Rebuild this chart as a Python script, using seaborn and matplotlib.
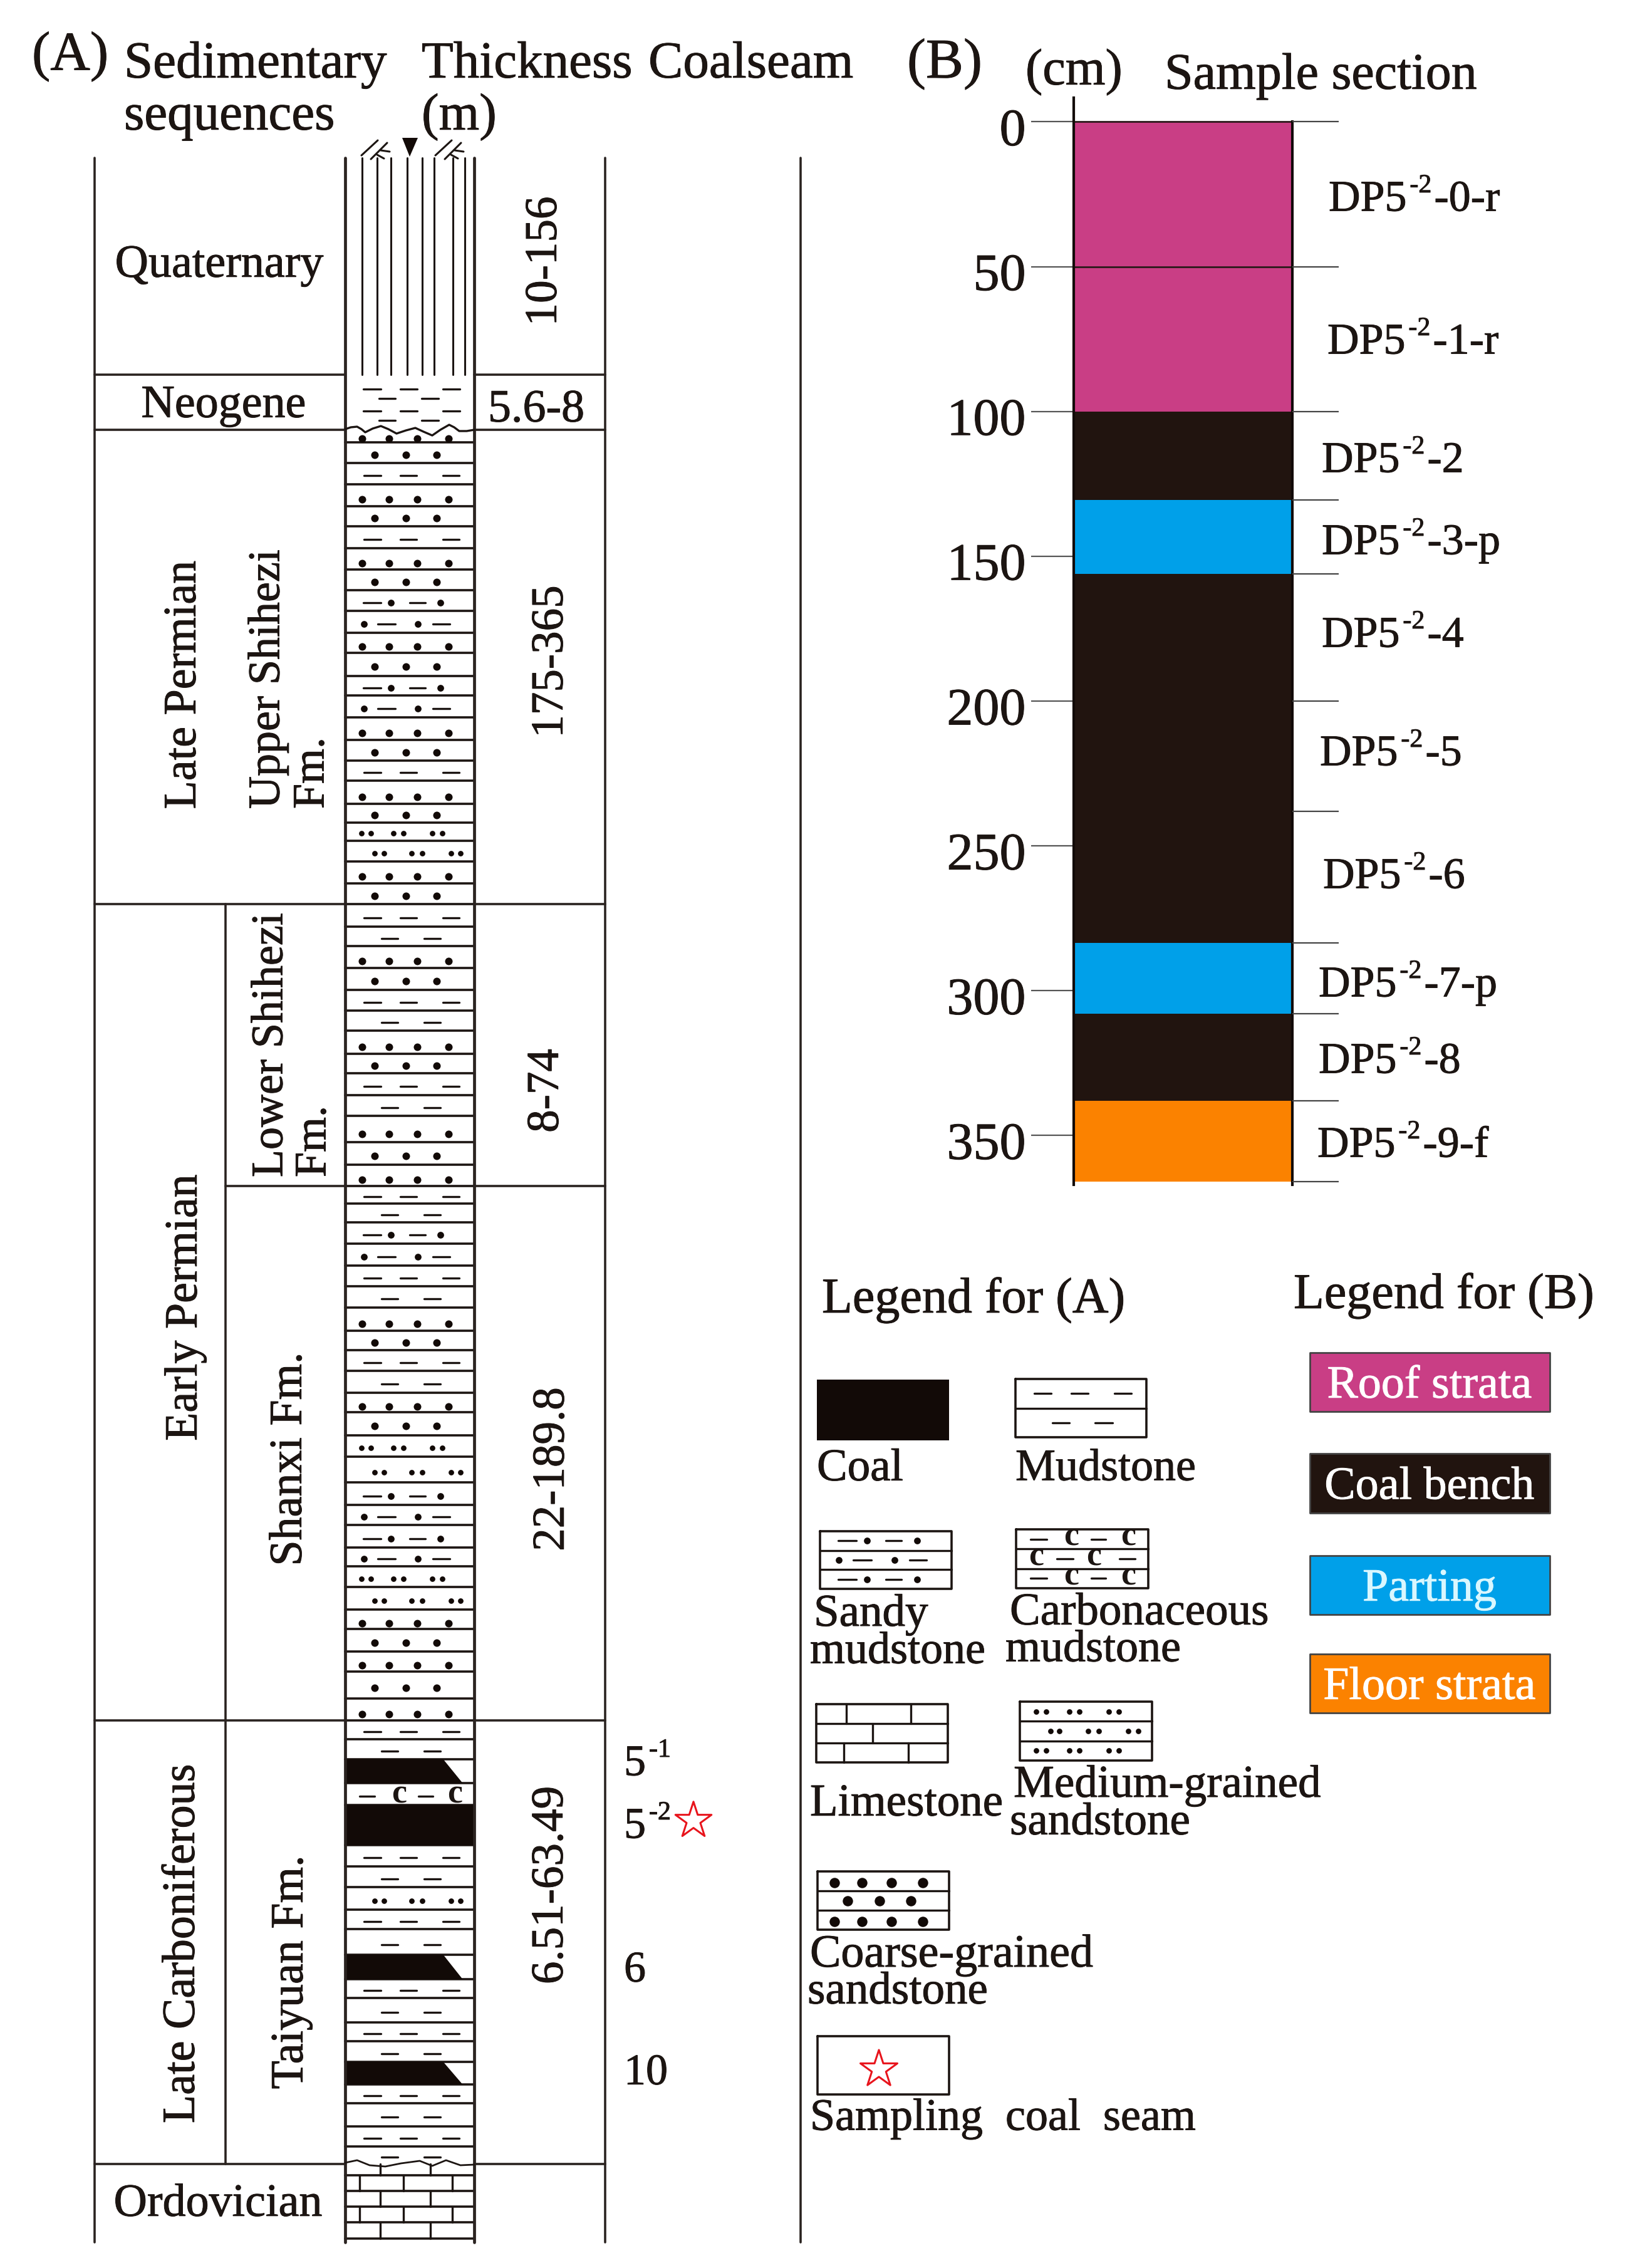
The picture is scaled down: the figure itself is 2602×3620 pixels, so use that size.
import matplotlib
matplotlib.use("Agg")
import matplotlib.pyplot as plt
import matplotlib.patheffects as pe
from matplotlib.transforms import ScaledTranslation
import seaborn as sns

# --- column A: top of each layer and what it is made of ---
layer_tops = [686, 706, 739, 773, 808, 840, 875, 909, 942, 975, 1010, 1042, 1079, 1110, 1145, 1181,
              1214, 1246, 1283, 1313, 1342, 1375, 1410, 1443, 1479, 1510, 1545, 1580, 1613, 1645,
              1682, 1713, 1748, 1781, 1823, 1859, 1893, 1921, 1951, 1985, 2020, 2053, 2087, 2124,
              2155, 2188, 2223, 2254, 2291, 2325, 2366, 2402, 2434, 2470, 2500, 2533, 2569, 2600,
              2636, 2668, 2711, 2746, 2776, 2808, 2846, 2881, 2945, 2979, 3012, 3048, 3079, 3120,
              3159, 3189, 3228, 3258, 3291, 3327, 3357, 3394, 3426, 3454]
layer_kinds = ["c4", "c3", "mudA", "c4", "c3", "mudA", "c4", "c3", "sandyA", "sandyB", "c4", "c3",
               "sandyA", "sandyB", "c4", "c3", "mudA", "c4", "c3", "medA", "medB", "c4", "c3",
               "mudA", "mudB", "c4", "c3", "mudA", "mudB", "c4", "c3", "mudA", "mudB", "c4", "c3",
               "c4", "mudA", "mudB", "sandyA", "sandyB", "mudA", "mudB", "c4", "c3", "mudA", "mudB",
               "c4", "c3", "medA", "medB", "sandyA", "sandyB", "sandyA", "sandyB", "medA", "medB",
               "c4", "c3", "c4", "c3", "c4", "mudA", "mudB", "wedge", "carbA", "coal", "mudA", "mudB",
               "medB", "mudA", "mudB", "wedge", "mudA", "mudB", "mudA", "mudB", "wedge", "mudA",
               "mudB", "mudA", "mudB"]
limestone_tops = [3454, 3472, 3497, 3522, 3547, 3573]

# --- column A: text rows ---
thickness_labels = ["10-156", "175-365", "8-74", "22-189.8", "6.51-63.49"]
thickness_y = [417, 1056, 1741, 2345, 3009]
thickness_x = [862, 872, 865, 874, 872]
section_breaks = [598, 686, 1443, 2746, 3454]

# --- column B: sample section in cm ---
bench_top = [0, 100, 130.5, 156, 283.5, 308, 338]
bench_bottom = [100, 130.5, 156, 283.5, 308, 338, 366]
bench_kind = ["roof", "coal", "part", "coal", "part", "coal", "floor"]
sample_breaks = [0, 50, 100, 130.5, 156, 200, 238, 283.5, 308, 338, 366]
sample_tails = ["-0-r", "-1-r", "-2", "-3-p", "-4", "-5", "-6", "-7-p", "-8", "-9-f"]
depth_ticks = [0, 50, 100, 150, 200, 250, 300, 350]

legend_b_names = ["Roof strata", "Coal bench", "Parting", "Floor strata"]

PINK, BLACK, BLUE, ORANGE = "#C93E85", "#21140F", "#00A0E9", "#FB8200"
bench_colors = {"roof": PINK, "coal": BLACK, "part": BLUE, "floor": ORANGE}
INK = "#1c1512"
COAL = "#120a07"
PX = 0.72  # px to pt at dpi 100

# pattern positions as fraction of column width
C4 = [0.13, 0.34, 0.56, 0.80]
C3 = [0.23, 0.47, 0.71]
MUD_A = [(0.145, 0.275), (0.425, 0.555), (0.755, 0.885)]
MUD_B = [(0.28, 0.41), (0.61, 0.74)]
SANDY_A = ([(0.14, 0.275), (0.50, 0.62)], [0.355, 0.74])
SANDY_B = ([(0.25, 0.39), (0.68, 0.81)], [0.145, 0.565])
MED_A = [0.125, 0.20, 0.375, 0.45, 0.675, 0.75]
MED_B = [0.23, 0.30, 0.515, 0.595, 0.82, 0.895]
CARB_A = ([(0.11, 0.23), (0.57, 0.68)], [0.42, 0.85])
CARB_B = ([(0.31, 0.43), (0.78, 0.90)], [0.15, 0.59])

sns.set_theme(style="white")
plt.rcParams["font.family"] = ["Liberation Serif", "DejaVu Serif"]

fig = plt.figure(figsize=(26.02, 36.20), dpi=100)
ax = fig.add_axes([0, 0, 1, 1])
ax.set_xlim(0, 2602)
ax.set_ylim(3620, 0)
ax.axis("off")


def T(x, y, s, size=74, color=INK, ha="left", va="center", rot=0):
    # the source letters sit a bit lower and heavier than plain text
    if va == "center" or va == "bottom":
        if rot:
            x += 8
        else:
            y += 7
    t = ax.text(x, y, s, fontsize=size * PX, color=color, ha=ha, va=va, rotation=rot)
    t.set_path_effects([pe.withStroke(linewidth=0.7, foreground=color)])
    return t


def sup_label(x, y, base, sup, tail="", size=70):
    # base + small raised part + rest, placed one after the other
    rend = fig.canvas.get_renderer()
    yb = y + 0.32 * size
    t = T(x, yb, base, size=size, va="baseline")
    x += t.get_window_extent(rend).width + 5
    t = T(x, yb - 0.42 * size, sup, size=size * 0.6, va="baseline")
    x += t.get_window_extent(rend).width + 4
    if tail:
        T(x, yb, tail, size=size, va="baseline")


def dots(xs, y, s=75):
    sns.scatterplot(x=xs, y=[y] * len(xs), s=s, color=COAL, linewidth=0, ax=ax, legend=False, zorder=4)


def pattern(kind, x0, x1, top, bottom, big=False):
    w = x1 - x0
    fx = lambda f: x0 + f * w
    y = top + 0.6 * (bottom - top)
    s = 140 if big else 75
    if kind == "c4":
        dots([fx(f) for f in C4], top + 0.7 * (bottom - top), s)
    elif kind == "c3":
        dots([fx(f) for f in C3], y, s)
    elif kind in ("mudA", "mudB"):
        for a, b in (MUD_A if kind == "mudA" else MUD_B):
            ax.plot([fx(a), fx(b)], [y, y], color=INK, lw=2.4)
    elif kind in ("sandyA", "sandyB"):
        dash, dot = SANDY_A if kind == "sandyA" else SANDY_B
        for a, b in dash:
            ax.plot([fx(a), fx(b)], [y, y], color=INK, lw=2.4)
        dots([fx(f) for f in dot], y, 60)
    elif kind in ("medA", "medB"):
        dots([fx(f) for f in (MED_A if kind == "medA" else MED_B)], y, 40)
    elif kind in ("carbA", "carbB"):
        dash, cs = CARB_A if kind == "carbA" else CARB_B
        for a, b in dash:
            ax.plot([fx(a), fx(b)], [y, y], color=INK, lw=2.4)
        for f in cs:
            ax.text(fx(f), y - 3, "c", fontsize=54 * PX, color=INK, ha="center", va="center",
                    fontweight="bold")
    elif kind == "coal":
        ax.fill_between([x0, x1], top, bottom, color=COAL, lw=0, zorder=3)
    elif kind == "wedge":
        ax.fill([x0, fx(0.76), fx(0.91), x0], [top, top, bottom, bottom], color=COAL, lw=0, zorder=3)


def limestone_row(x0, x1, top, bottom, cuts):
    w = x1 - x0
    for f in cuts:
        ax.plot([x0 + f * w] * 2, [top, bottom], color=INK, lw=2.4)


# --- panel A frame ---
for x in (151, 966, 1278):
    ax.plot([x, x], [252, 3579], color="#2a2320", lw=2.6)
for x in (551, 757):
    ax.plot([x, x], [252, 3579], color="#2a2320", lw=3.4, zorder=5)
ax.plot([360, 360], [1443, 3454], color="#2a2320", lw=2.6)
for y in section_breaks:
    ax.plot([151, 551], [y, y], color="#2a2320", lw=2.6)
    ax.plot([757, 966], [y, y], color="#2a2320", lw=2.6)
ax.plot([360, 551], [1893, 1893], color="#2a2320", lw=2.6)
ax.plot([757, 966], [1893, 1893], color="#2a2320", lw=2.6)

# --- column A layers ---
layer_bottoms = layer_tops[1:]
for top, bottom, kind in zip(layer_tops, layer_bottoms, layer_kinds):
    pattern(kind, 551, 757, top, bottom)
    if top > 686:
        ax.plot([551, 757], [top, top], color=INK, lw=2.6)
for i, (top, bottom) in enumerate(zip(limestone_tops, limestone_tops[1:])):
    limestone_row(551, 757, top, bottom, [0.11, 0.45, 0.83] if i % 2 else [0.27, 0.66])
    if i > 0:
        ax.plot([551, 757], [top, top], color=INK, lw=2.6)
ax.plot([551, 757], [3573, 3573], color=INK, lw=2.6)

# quaternary lines and symbols on top
for x in (578, 602, 624, 650, 674, 693, 723, 742):
    ax.plot([x, x], [252, 598], color=INK, lw=2.2)
ax.fill([642, 667, 654], [220, 220, 250], color=COAL, lw=0)
for dx in (0, 118):
    ax.plot([577 + dx, 603 + dx], [248, 224], color=INK, lw=2.2)
    ax.plot([592 + dx, 618 + dx], [254, 228], color=INK, lw=2.2)
    ax.plot([608 + dx, 622 + dx], [240, 242], color=INK, lw=2.2)
    ax.plot([602 + dx, 613 + dx], [247, 253], color=INK, lw=2.2)

# neogene dashes, wavy contacts
for y in (621, 656):
    for a, b in ((580, 608), (639, 666), (707, 734)):
        ax.plot([a, b], [y, y], color=INK, lw=2.4)
for y in (636, 671):
    for a, b in ((605, 631), (673, 700)):
        ax.plot([a, b], [y, y], color=INK, lw=2.4)
ax.plot([551, 560, 570, 577, 583, 595, 608, 620, 633, 648, 663, 676, 690, 703, 717, 725, 733, 745, 757],
        [685, 682, 681, 685, 690, 684, 680, 685, 692, 687, 683, 689, 695, 686, 678, 682, 688, 688, 686],
        color=INK, lw=2.4, zorder=5)
ax.plot([551, 570, 590, 615, 640, 670, 690, 712, 735, 757],
        [3452, 3448, 3456, 3458, 3453, 3449, 3457, 3448, 3456, 3455], color=INK, lw=2, zorder=5)

# --- panel A text ---
T(51, 83, "(A)", size=88)
T(198, 97, "Sedimentary", size=83)
T(198, 180, "sequences", size=83)
T(673, 97, "Thickness", size=83)
T(673, 180, "(m)", size=83)
T(1035, 97, "Coalseam", size=83)

T(350, 417, "Quaternary", size=74, ha="center")
T(357, 641, "Neogene", size=74, ha="center")
T(856, 648, "5.6-8", size=74, ha="center")
T(348, 3512, "Ordovician", size=74, ha="center")
T(286, 1093, "Late Permian", ha="center", rot=90)
T(288, 2087, "Early Permian", ha="center", rot=90)
T(284, 3102, "Late Carboniferous", ha="center", rot=90)
T(420, 1291, "Upper Shihezi", size=72, ha="center", va="bottom", rot=90)
T(491, 1291, "Fm.", size=72, ha="center", va="bottom", rot=90)
T(425, 1879, "Lower Shihezi", size=72, ha="center", va="bottom", rot=90)
T(494, 1879, "Fm.", size=72, ha="center", va="bottom", rot=90)
T(455, 2329, "Shanxi Fm.", ha="center", rot=90)
T(457, 3148, "Taiyuan Fm.", ha="center", rot=90)
for s, x, y in zip(thickness_labels, thickness_x, thickness_y):
    T(x, y, s, size=73, ha="center", rot=90)

sup_label(996, 2811, "5", "-1", size=70)
sup_label(996, 2911, "5", "-2", size=70)
T(996, 3139, "6", size=70)
T(996, 3303, "10", size=70)
ax.scatter([1107], [2906], marker="*", s=1900, facecolors="none", edgecolors="#E8141C", linewidths=2.2)

# --- panel B ---
axb = fig.add_axes([1714 / 2602, 1 - 1891 / 3620, 349 / 2602, (1891 - 156) / 3620])
for top, bottom, kind in zip(bench_top, bench_bottom, bench_kind):
    sns.barplot(x=[0], y=[bottom - top], bottom=top, color=bench_colors[kind], saturation=1,
                width=1, ax=axb, linewidth=0)
axb.set_xlim(-0.5, 0.5)
axb.set_ylim(367, -8.3)
axb.set_xticks([])
axb.set_xlabel("")
axb.set_ylabel("")
axb.set_yticks(depth_ticks)
axb.set_yticklabels([str(d) for d in depth_ticks], fontsize=84 * PX, color=INK)
axb.tick_params(axis="y", left=True, length=68 * PX, width=1.6, color="#555555", pad=6)
shift = ScaledTranslation(0, -8 / 100, fig.dpi_scale_trans)
for lab in axb.get_yticklabels():
    lab.set_transform(lab.get_transform() + shift)
    lab.set_path_effects([pe.withStroke(linewidth=0.7, foreground=INK)])
axb.patch.set_alpha(0)
axb.hlines([0, 50], -0.5, 0.5, color="#2a1a1a", lw=2)
for side in ("top", "bottom"):
    axb.spines[side].set_visible(False)
axb.spines["left"].set_linewidth(3)
axb.spines["left"].set_color(COAL)
axb.spines["right"].set_bounds(0, 367)
axb.spines["right"].set_linewidth(3)
axb.spines["right"].set_color(COAL)

axr = axb.twinx()
axr.set_ylim(367, -8.3)
axr.set_yticks(sample_breaks)
axr.set_yticklabels([])
axr.tick_params(axis="y", right=True, length=74 * PX, width=1.6, color="#444444")
axr.grid(False)
for side in axr.spines:
    axr.spines[side].set_visible(False)

T(1448, 95, "(B)", size=90)
T(1637, 108, "(cm)", size=82)
T(1859, 115, "Sample section", size=82)

sample_x = [2121, 2119, 2110, 2110, 2110, 2107, 2112, 2105, 2105, 2103]
sample_y = [314, 542, 731, 862, 1010, 1199, 1395, 1568, 1690, 1824]
for x, y, tail in zip(sample_x, sample_y, sample_tails):
    sup_label(x, y, "DP5", "-2", tail, size=70)

# --- legends ---
T(1312, 2068, "Legend for (A)", size=80)
T(2065, 2061, "Legend for (B)", size=80)


def swatch(x0, x1, top, bottom, kinds):
    ax.plot([x0, x1, x1, x0, x0], [top, top, bottom, bottom, top], color=INK, lw=2.6)
    h = (bottom - top) / len(kinds)
    for i, k in enumerate(kinds):
        if i:
            ax.plot([x0, x1], [top + i * h] * 2, color=INK, lw=2.4)
        pattern(k, x0, x1, top + i * h - (0.1 * h if k != "c4" else 0.2 * h), top + (i + 1) * h - 0.1 * h, big=True)


ax.fill_between([1304, 1515], 2202, 2299, color=COAL, lw=0)
T(1304, 2338, "Coal", size=73)
swatch(1621, 1830, 2201, 2294, ["mudA", "mudB"])
T(1621, 2338, "Mudstone", size=72)
swatch(1309, 1519, 2444, 2536, ["sandyA", "sandyB", "sandyA"])
T(1299, 2570, "Sandy", size=73)
T(1293, 2630, "mudstone", size=72)
swatch(1622, 1833, 2441, 2535, ["carbA", "carbB", "carbA"])
T(1612, 2568, "Carbonaceous", size=73)
T(1605, 2627, "mudstone", size=72)
ax.plot([1303, 1513, 1513, 1303, 1303], [2720, 2720, 2813, 2813, 2720], color=INK, lw=2.6)
for i, cuts in enumerate([[0.23, 0.72], [0.43], [0.21, 0.70]]):
    limestone_row(1303, 1513, 2720 + i * 31, 2720 + (i + 1) * 31, cuts)
    if i:
        ax.plot([1303, 1513], [2720 + i * 31] * 2, color=INK, lw=2.4)
T(1293, 2873, "Limestone", size=73)
swatch(1628, 1839, 2716, 2810, ["medA", "medB", "medA"])
T(1618, 2843, "Medium-grained", size=73)
T(1612, 2903, "sandstone", size=73)
swatch(1305, 1515, 2987, 3080, ["c4", "c3", "c4"])
T(1293, 3114, "Coarse-grained", size=74)
T(1289, 3173, "sandstone", size=73)
swatch(1305, 1515, 3250, 3343, [""])
ax.scatter([1403], [3303], marker="*", s=2000, facecolors="none", edgecolors="#E8141C", linewidths=2.2)
T(1293, 3375, "Sampling  coal  seam", size=72)

legend_b_tops = [2159, 2320, 2483, 2640]
legend_b_bottoms = [2253, 2415, 2577, 2734]
legend_b_colors = [PINK, BLACK, BLUE, ORANGE]
legend_b_text = ["white", "white", "#d9f7ff", "white"]
for name, top, bottom, c, tc in zip(legend_b_names, legend_b_tops, legend_b_bottoms, legend_b_colors, legend_b_text):
    ax.fill_between([2091, 2474], top, bottom, color=c, edgecolor="#444444", lw=2)
    T(2282, (top + bottom) / 2, name, size=74, color=tc, ha="center")

ax.set_xlim(0, 2602)
ax.set_ylim(3620, 0)
fig.savefig("out.png", dpi=100, facecolor="white")
